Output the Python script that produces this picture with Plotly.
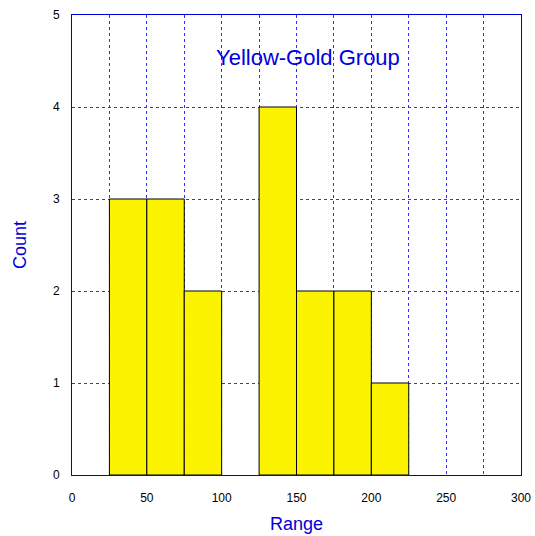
import plotly.graph_objects as go

bin_starts = [25, 50, 75, 125, 150, 175, 200]
bin_width = 25
counts = [3, 3, 2, 4, 2, 2, 1]
x_grid = [0, 25, 50, 75, 100, 125, 150, 175, 200, 225, 250, 275, 300]
x_labels = ["0", "", "50", "", "100", "", "150", "", "200", "", "250", "", "300"]
y_ticks = [0, 1, 2, 3, 4, 5]

centers = [s + bin_width / 2 for s in bin_starts]

blue = "#0000DD"
grid_blue = "#3030F0"
fig = go.Figure()
fig.add_trace(go.Bar(
    x=centers, y=counts, width=[bin_width] * len(centers),
    marker=dict(color="#FCF300", line=dict(color="black", width=1)),
))

fig.update_layout(
    template="none",
    width=535, height=536,
    margin=dict(l=72, r=14, t=15, b=61),
    paper_bgcolor="white", plot_bgcolor="white",
    showlegend=False,
    font=dict(family="Liberation Sans, Arial, sans-serif", color="black", size=12),
    annotations=[dict(
        text="Yellow-Gold Group", x=157.5, y=4.54, xref="x", yref="y",
        showarrow=False, font=dict(size=22, color=blue),
    )],
)
fig.update_xaxes(
    range=[0, 300], tickvals=x_grid, ticktext=x_labels, ticks="", ticklabelstandoff=12,
    automargin=False,
    showline=True, linecolor=blue, linewidth=1, mirror=True,
    showgrid=True, gridcolor=grid_blue, griddash="dot", gridwidth=1,
    zeroline=False,
    title=dict(text="Range", font=dict(size=18, color=blue), standoff=12),
)
fig.update_yaxes(
    range=[0, 5], tickvals=y_ticks, ticks="", ticklabelstandoff=9,
    automargin=False,
    showline=True, linecolor=blue, linewidth=1, mirror=True,
    showgrid=True, gridcolor=grid_blue, griddash="dot", gridwidth=1,
    zeroline=False,
    title=dict(text="Count", font=dict(size=18, color=blue), standoff=21),
)

fig.write_html(
    "out.html",
    config={"displayModeBar": False},
    post_script="document.body.style.margin='0';document.body.style.overflow='hidden';",
)
